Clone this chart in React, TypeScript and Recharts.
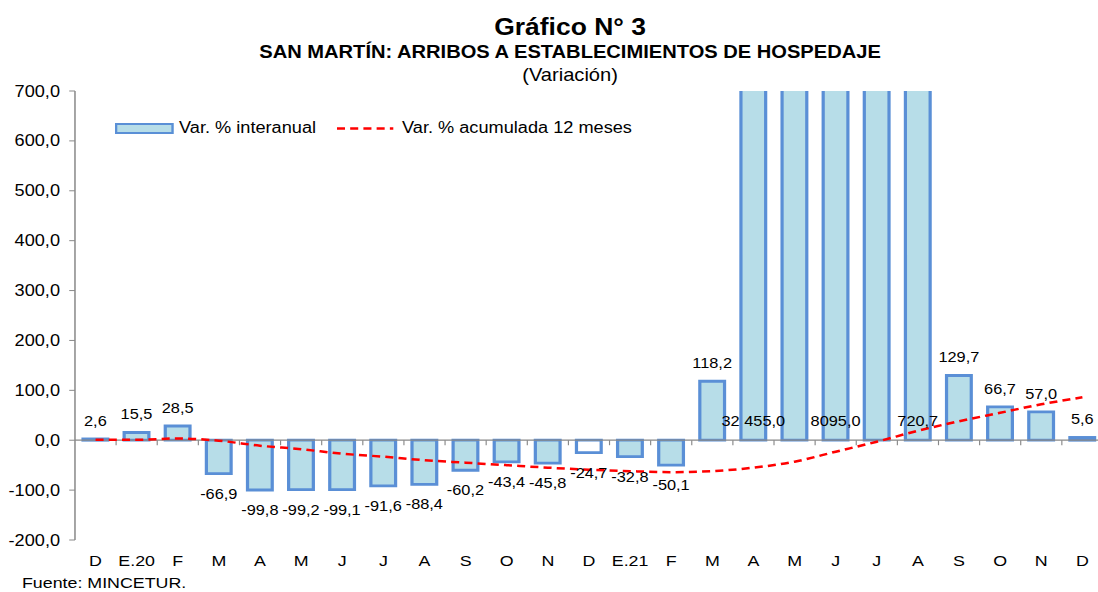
import React from 'react';
import { ComposedChart, Bar, Line, XAxis, YAxis, ReferenceLine, Legend, LabelList, Cell } from 'recharts';

const categories = ['D', 'E.20', 'F', 'M', 'A', 'M', 'J', 'J', 'A', 'S', 'O', 'N', 'D', 'E.21', 'F', 'M', 'A', 'M', 'J', 'J', 'A', 'S', 'O', 'N', 'D'];
const interanual = [2.6, 15.5, 28.5, -66.9, -99.8, -99.2, -99.1, -91.6, -88.4, -60.2, -43.4, -45.8, -24.7, -32.8, -50.1, 118.2, 32455.0, 12000.0, 8095.0, 1100.0, 720.7, 129.7, 66.7, 57.0, 5.6];
const acumulada = [1, 1, 3.5, -1, -11, -18, -27, -33, -40, -45, -50, -55, -59, -62, -64, -62, -55, -43, -23, -3, 19, 38, 55, 72, 86];
const showLabel = [true, true, true, true, true, true, true, true, true, true, true, true, true, true, true, true, true, false, true, false, true, true, true, true, true];
const whiteBars = [false, false, false, false, false, false, false, false, false, false, false, false, true, false, false, false, false, false, false, false, false, false, false, false, false];
const yTicks = [-200, -100, 0, 100, 200, 300, 400, 500, 600, 700];

const TITLE = 'Gráfico N° 3';
const SUBTITLE = 'SAN MARTÍN: ARRIBOS A ESTABLECIMIENTOS DE HOSPEDAJE';
const SUBTITLE2 = '(Variación)';
const SOURCE = 'Fuente: MINCETUR.';
const LEG_BAR = 'Var. % interanual';
const LEG_LINE = 'Var. % acumulada 12 meses';

const data = categories.map((c, i) => ({ cat: c, interanual: interanual[i], acumulada: acumulada[i] }));

const S = 1.15;
const W = 962;
const H = 592;
const FONT = '"Liberation Sans", Arial, sans-serif';
const BAR_FILL = '#B7DDE8';
const BAR_STROKE = '#5A8FD6';
const AXIS = '#888888';
const Y_MAX = 700;

const fmt = (v: number) => {
  const neg = v < 0;
  const a = Math.abs(v).toFixed(1);
  let [ip, dp] = a.split('.');
  if (ip.length >= 5) ip = ip.replace(/\B(?=(\d{3})+(?!\d))/g, ' ');
  return (neg ? '-' : '') + ip + ',' + dp;
};

const renderBarLabel = (props: any) => {
  const vb = props.viewBox || {};
  const x = props.x ?? vb.x;
  const y = props.y ?? vb.y;
  const w = props.width ?? vb.width;
  const h = props.height ?? vb.height;
  const idx = props.index;
  if (idx == null || !showLabel[idx]) return null;
  const v = interanual[idx];
  const top = Math.min(y, y + h);
  const bottom = Math.max(y, y + h);
  let cy: number;
  if (v > Y_MAX) cy = bottom - 19;
  else if (v >= 0) cy = top - 18;
  else cy = bottom + 20;
  return (
    <text x={x + w / 2} y={cy} dy="0.35em" textAnchor="middle" fontFamily={FONT} fontSize={14.2} fill="#000">
      {fmt(v)}
    </text>
  );
};

const ZeroAxis = (p: any) => {
  const { x1, y1, x2 } = p;
  const n = categories.length;
  const step = (x2 - x1) / n;
  const ticks = [];
  for (let i = 1; i <= n; i++) {
    const tx = x1 + i * step;
    ticks.push(<line key={i} x1={tx} x2={tx} y1={y1} y2={y1 + 5} stroke={AXIS} strokeWidth={1} />);
  }
  return (
    <g>
      <line x1={x1} x2={x2} y1={y1} y2={y1} stroke={AXIS} strokeWidth={1.3} />
      {ticks}
    </g>
  );
};

const LegendContent = () => (
  <div style={{ position: 'relative', width: 420, height: 24, fontFamily: FONT, fontSize: 15.8, color: '#000' }}>
    <div style={{ position: 'absolute', left: 0, top: 7, width: 51, height: 11, background: BAR_FILL, border: `2.6px solid ${BAR_STROKE}`, boxSizing: 'border-box' }} />
    <div style={{ position: 'absolute', left: 55.7, top: 0, lineHeight: '24px', whiteSpace: 'nowrap' }}>{LEG_BAR}</div>
    <svg style={{ position: 'absolute', left: 193, top: 0 }} width={50} height={24}>
      <line x1={0} x2={49} y1={12.5} y2={12.5} stroke="#FF0000" strokeWidth={2.5} strokeDasharray="7 4.5" />
    </svg>
    <div style={{ position: 'absolute', left: 249.6, top: 0, lineHeight: '24px', whiteSpace: 'nowrap' }}>{LEG_LINE}</div>
  </div>
);

export default function App() {
  return (
    <div style={{ position: 'absolute', left: 0, top: 0, width: 1098, height: 592, overflow: 'hidden', background: '#fff' }}>
      <div style={{ position: 'absolute', left: 0, top: 0, width: W, height: H, transform: `scaleX(${S})`, transformOrigin: '0 0' }}>
        <ComposedChart width={W} height={H} data={data} margin={{ top: 91, right: 2.9, left: 0, bottom: 12 }}>
          <XAxis
            dataKey="cat"
            axisLine={false}
            tickLine={false}
            tickSize={0}
            tickMargin={15}
            height={40}
            interval={0}
            tick={{ fill: '#000', fontSize: 15.5, fontFamily: FONT }}
          />
          <YAxis
            domain={[-200, 700]}
            ticks={yTicks}
            allowDataOverflow
            width={65.2}
            tickSize={5}
            tickMargin={8}
            stroke={AXIS}
            axisLine={{ stroke: AXIS, strokeWidth: 1.3 }}
            tickLine={{ stroke: AXIS }}
            tick={{ fill: '#000', fontSize: 15.8, fontFamily: FONT }}
            tickFormatter={(v: number) => v.toFixed(1).replace('.', ',')}
          />
          <Legend
            layout="horizontal"
            verticalAlign="middle"
            content={<LegendContent />}
            wrapperStyle={{ position: 'absolute', top: 116, left: 100, width: 420, height: 24 }}
          />
          <Bar dataKey="interanual" barSize={21.5} fill={BAR_FILL} stroke={BAR_STROKE} strokeWidth={2.8} isAnimationActive={false}>
            {data.map((d, i) => (
              <Cell key={i} fill={whiteBars[i] ? '#FFFFFF' : BAR_FILL} />
            ))}
            <LabelList dataKey="interanual" content={renderBarLabel} />
          </Bar>
          <ReferenceLine y={0} shape={ZeroAxis} />
          <Line
            type="monotone"
            dataKey="acumulada"
            stroke="#FF0000"
            strokeWidth={2.5}
            strokeDasharray="7 4.5"
            dot={false}
            activeDot={false}
            isAnimationActive={false}
          />
        </ComposedChart>
        <svg style={{ position: 'absolute', left: 0, top: 0, pointerEvents: 'none' }} width={W} height={H}>
          <text x={495.7} y={35} textAnchor="middle" fontFamily={FONT} fontWeight="bold" fontSize={23} fill="#000">{TITLE}</text>
          <text x={495.7} y={58} textAnchor="middle" fontFamily={FONT} fontWeight="bold" fontSize={17.5} fill="#000">{SUBTITLE}</text>
          <text x={495.7} y={81} textAnchor="middle" fontFamily={FONT} fontSize={17.5} fill="#000">{SUBTITLE2}</text>
          <text x={19.1} y={588} fontFamily={FONT} fontSize={15.5} fill="#000">{SOURCE}</text>
        </svg>
      </div>
    </div>
  );
}
